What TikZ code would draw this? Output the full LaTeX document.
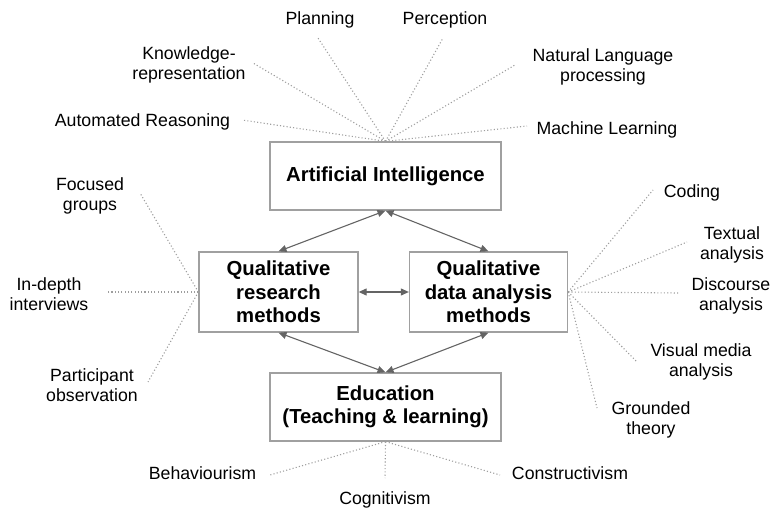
\documentclass[tikz,border=0pt]{standalone}
\usepackage{fontspec}
\setmainfont{Liberation Sans}
\usetikzlibrary{arrows.meta}
\definecolor{boxline}{HTML}{A0A0A0}
\definecolor{arrowc}{HTML}{646464}
\definecolor{dotc}{HTML}{9E9E9E}
\begin{document}
\begin{tikzpicture}[x=1pt,y=-1pt,
  box/.style={draw=boxline,line width=1.3pt,fill=white,align=center,
    font=\fontsize{20.3}{23.4}\selectfont\bfseries,inner sep=0pt},
  lbl/.style={align=center,inner sep=0pt,yshift=-2pt,font=\fontsize{17.7}{20.4}\selectfont},
  link/.style={draw=arrowc,line width=1.1pt,
    {Triangle[length=8pt,width=7pt]}-{Triangle[length=8pt,width=7pt]}},
  ray/.style={draw=dotc,line width=1.1pt,dash pattern=on 1.1pt off 2.2pt}]
\useasboundingbox (0,0) rectangle (771,510);

% central boxes
\node[box,minimum width=231pt,minimum height=68pt] (ai)  at (385.5,176) {Artificial Intelligence};
\node[box,minimum width=159pt,minimum height=80pt] (qrm) at (278.5,292) {Qualitative\\research\\methods};
\node[box,minimum width=158pt,minimum height=80pt] (qda) at (488.5,292) {Qualitative\\data analysis\\methods};
\node[box,minimum width=231pt,minimum height=68pt] (edu) at (385.5,407) {Education\\(Teaching \& learning)};

% links between the boxes
\draw[link] (ai.south) -- (qrm.north);
\draw[link] (ai.south) -- (qda.north);
\draw[link] (qrm.east) -- (qda.west);
\draw[link] (qrm.south) -- (edu.north);
\draw[link] (qda.south) -- (edu.north);

% topics of artificial intelligence
\node[lbl] (ar)  at (142.5,120) {Automated Reasoning};
\node[lbl] (kr)  at (189,63) {Knowledge-\\representation};
\node[lbl] (pl)  at (320,18) {Planning};
\node[lbl] (pe)  at (445,18) {Perception};
\node[lbl] (nlp) at (603,65) {Natural Language\\processing};
\node[lbl] (ml)  at (607,128) {Machine Learning};
\coordinate (arE)  at (242,120);
\coordinate (krE)  at (253,63);
\coordinate (plE)  at (318,38);
\coordinate (peE)  at (443,38);
\coordinate (nlpE) at (515,65);
\coordinate (mlE)  at (527,126);
\foreach \e in {arE,krE,plE,peE,nlpE,mlE} \draw[ray] (ai.north) -- (\e);

% qualitative research methods
\node[lbl] (fg) at (90,194)  {Focused\\groups};
\node[lbl] (id) at (49,292)  {In-depth\\interviews};
\node[lbl] (po) at (92,383)  {Participant\\observation};
\coordinate (fgE) at (140,193);
\coordinate (idE) at (107,292);
\coordinate (poE) at (148,382);
\foreach \e in {fgE,idE,poE} \draw[ray] (qrm.west) -- (\e);

% qualitative data analysis methods
\node[lbl] (cod) at (692,191) {Coding};
\node[lbl] (ta)  at (732,243) {Textual\\analysis};
\node[lbl] (da)  at (731,294) {Discourse\\analysis};
\node[lbl] (vm)  at (701,360) {Visual media\\analysis};
\node[lbl] (gt)  at (651,418) {Grounded\\theory};
\coordinate (codE) at (653,190);
\coordinate (taE)  at (687,242);
\coordinate (daE)  at (678,293);
\coordinate (vmE)  at (637,362);
\coordinate (gtE)  at (597,408);
\foreach \e in {codE,taE,daE,vmE,gtE} \draw[ray] (qda.east) -- (\e);

% learning theories
\node[lbl] (beh) at (202.5,471) {Behaviourism};
\node[lbl] (cog) at (385,498)   {Cognitivism};
\node[lbl] (con) at (570,471)   {Constructivism};
\coordinate (behE) at (270,475);
\coordinate (cogE) at (385,478);
\coordinate (conE) at (500,475);
\foreach \e in {behE,cogE,conE} \draw[ray] (edu.south) -- (\e);
\end{tikzpicture}
\end{document}
